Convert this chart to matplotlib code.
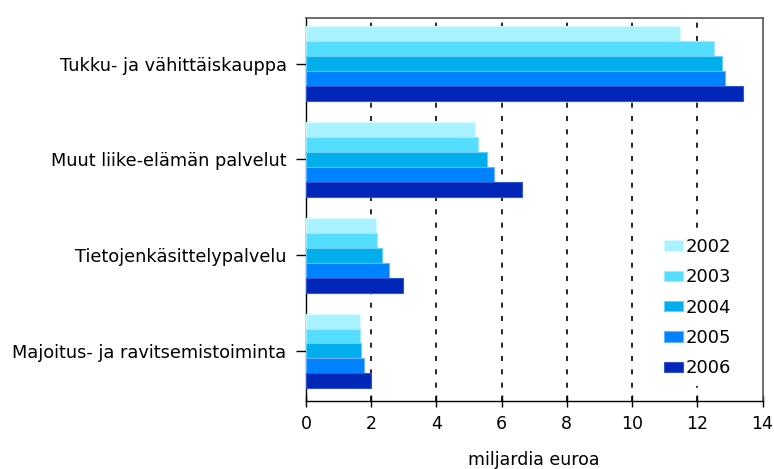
import matplotlib
matplotlib.use("Agg")
import matplotlib.pyplot as plt
import numpy as np

categories = ["Tukku- ja vähittäiskauppa", "Muut liike-elämän palvelut",
              "Tietojenkäsittelypalvelu", "Majoitus- ja ravitsemistoiminta"]
years = ["2002", "2003", "2004", "2005", "2006"]
v2002 = [11.48, 5.19, 2.15, 1.65]
v2003 = [12.52, 5.29, 2.19, 1.65]
v2004 = [12.77, 5.54, 2.34, 1.70]
v2005 = [12.86, 5.78, 2.54, 1.79]
v2006 = [13.41, 6.61, 2.99, 2.00]
series = [v2002, v2003, v2004, v2005, v2006]
colors = ["#AAF2FF", "#55DDFF", "#00AEEE", "#0082FF", "#0026B8"]
edges = ["#D8FAFF", "#9EEBFF", "#66D0F6", "#66B4FF", "#3355D0"]
xticks = [0, 2, 4, 6, 8, 10, 12, 14]

plt.rcParams['font.family'] = ['DejaVu Sans']
fig = plt.figure(figsize=(7.74, 4.69), dpi=100)
ax = fig.add_axes([306/774, 1-400.7/469, (762.5-306)/774, (400.7-17.7)/469])

n = len(categories)
bh = 0.156
ypos = np.arange(n)
for i, (vals, c, ec) in enumerate(zip(series, colors, edges)):
    offs = (i - 2) * bh
    ax.barh(ypos + offs, vals, height=bh, color=c, edgecolor=ec, linewidth=0.8,
            label=years[i], zorder=3)

ax.set_ylim(n - 0.5 + 0.02, -0.5 + 0.02)
ax.set_xlim(0, 14)
ax.set_xticks(xticks)
ax.set_xticklabels([str(t) for t in xticks], fontsize=12.5)
ax.set_yticks(ypos)
ax.set_yticklabels(categories, fontsize=12.8)
for t in xticks[1:-1]:
    ax.axvline(t, color="black", linestyle=(0, (3, 5)), linewidth=1.2, zorder=1)

ax.tick_params(axis='x', direction='inout', length=8, width=1, pad=6)
ax.tick_params(axis='y', direction='out', length=7, width=1, pad=7)
for s in ['top', 'right']:
    ax.spines[s].set_color('#555555')
    ax.spines[s].set_linewidth(1.2)
for s in ['left', 'bottom']:
    ax.spines[s].set_color('black')
    ax.spines[s].set_linewidth(1.0)

ax.set_xlabel("miljardia euroa", fontsize=12.5, labelpad=13)

leg = ax.legend(loc='lower right', bbox_to_anchor=(0.951, 0.038), frameon=True,
                facecolor='white', edgecolor='none', framealpha=1, fancybox=False,
                fontsize=13, handlelength=1.05, handleheight=0.5,
                handletextpad=0.12, labelspacing=0.68, borderpad=0.5,
                borderaxespad=0)
leg.set_zorder(5)

fig.savefig("out.png", dpi=100)
